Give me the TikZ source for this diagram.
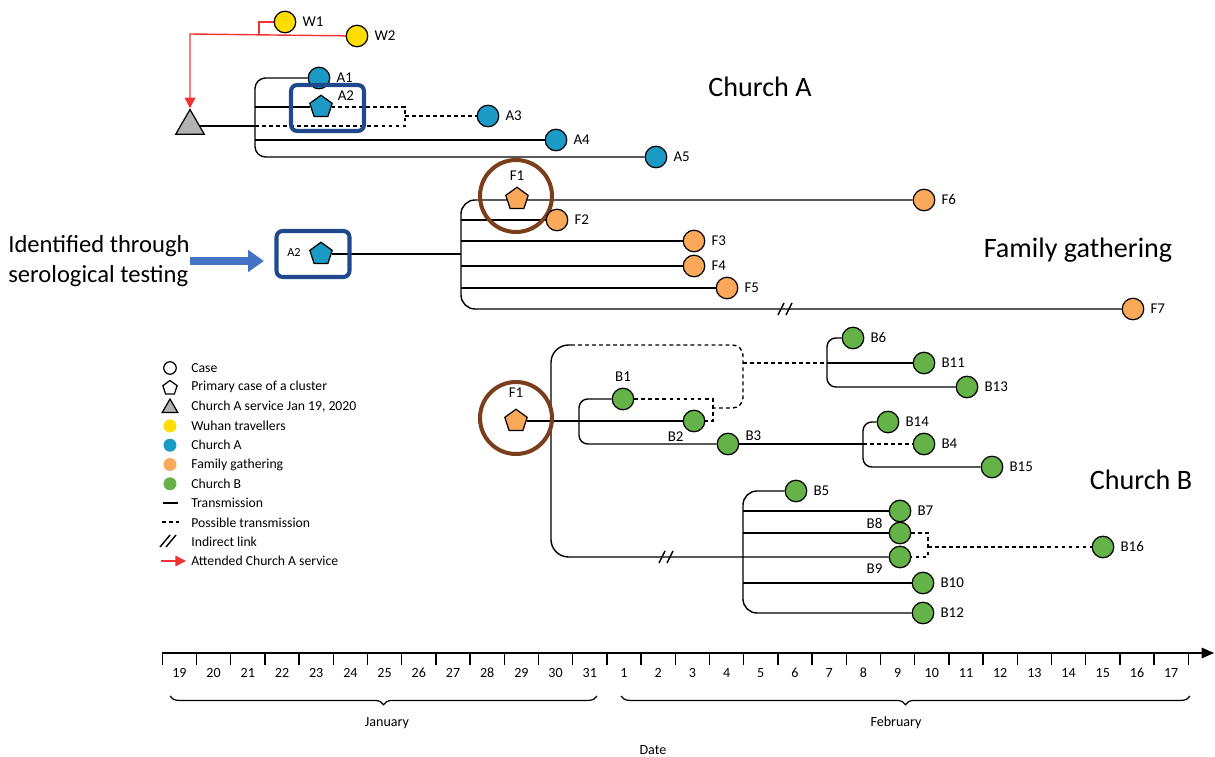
\documentclass[tikz,border=0pt]{standalone}
\usepackage{fontspec}
\setmainfont{Carlito}
\usetikzlibrary{shapes.geometric,arrows.meta,decorations.pathreplacing,backgrounds}

\definecolor{wuhan}{RGB}{255,221,0}
\definecolor{churcha}{RGB}{26,154,196}
\definecolor{family}{RGB}{250,169,90}
\definecolor{churchb}{RGB}{100,178,72}
\definecolor{idblue}{RGB}{31,73,140}
\definecolor{seroblue}{RGB}{68,114,196}
\definecolor{ringbrown}{RGB}{122,62,28}
\definecolor{attendred}{RGB}{240,50,50}

\tikzset{
  case/.style={circle, draw, line width=0.7pt, minimum size=0.43cm, inner sep=0pt},
  prim/.style={regular polygon, regular polygon sides=5, draw, line width=0.7pt, minimum size=0.47cm, inner sep=0pt},
  svc/.style={regular polygon, regular polygon sides=3, draw, fill=black!30, line width=0.7pt, minimum size=0.66cm, inner sep=0pt},
  lbl/.style={font=\fontsize{8.5}{10}\selectfont},
  tx/.style={line width=0.8pt},
  ptx/.style={line width=0.8pt, dash pattern=on 2.2pt off 1.8pt},
  idbox/.style={draw=idblue, line width=2.3pt, rounded corners=3.5pt, minimum width=1.46cm, minimum height=0.92cm},
  ring/.style={circle, draw=ringbrown, line width=2.3pt, minimum size=1.44cm},
  title/.style={font=\fontsize{16}{19}\selectfont},
  legtxt/.style={anchor=west, font=\fontsize{7.8}{9}\selectfont, inner sep=0pt},
  axtxt/.style={font=\fontsize{8}{9}\selectfont},
  attend/.style={draw=attendred, line width=0.8pt},
}

% indirect link mark
\newcommand{\ilink}[1]{\draw[tx] ([shift={(-7,6)}]#1) -- ([shift={(-1,-6)}]#1) ([shift={(1,6)}]#1) -- ([shift={(7,-6)}]#1);}

\begin{document}
\begin{tikzpicture}[x=0.02cm, y=-0.02cm]
  \useasboundingbox (0,0) rectangle (1215,757);

  % Wuhan travellers and Church A service
  \node[case, fill=wuhan, label={[lbl]right:W1}] (W1) at (285,22) {};
  \node[case, fill=wuhan, label={[lbl]right:W2}] (W2) at (357,36) {};
  \node[svc] (tri) at (190,126) {};
  \coordinate (rw) at (259,34);
  \coordinate (rc) at (190,34);

  % Church A
  \node[case, fill=churcha, label={[lbl]right:A1}] (A1) at (319,78) {};
  \node[prim, fill=churcha, label={[lbl,yshift=6.5pt]right:A2}] (A2) at (321,107) {};
  \node[case, fill=churcha, label={[lbl]right:A3}] (A3) at (488,116) {};
  \node[case, fill=churcha, label={[lbl]right:A4}] (A4) at (556,140) {};
  \node[case, fill=churcha, label={[lbl]right:A5}] (A5) at (656,157) {};
  \node[idbox] (boxA) at (327.5,108) {};
  \node[title] (tA) at (760,87) {Church A};
  \coordinate (sA) at (255,126);
  \coordinate (kA) at (405,116);

  % Family gathering
  \node[idbox] (boxF) at (313,254) {};
  \node[font=\fontsize{7}{8}\selectfont] (A2t) at (294,253) {A2};
  \node[prim, fill=churcha] (A2b) at (321,254) {};
  \node[prim, fill=family, label={[lbl]above:F1}] (F1) at (517,199) {};
  \node[ring] (rF1) at (516,196) {};
  \node[case, fill=family, label={[lbl]right:F2}] (F2) at (557,220) {};
  \node[case, fill=family, label={[lbl]right:F3}] (F3) at (694,241) {};
  \node[case, fill=family, label={[lbl]right:F4}] (F4) at (694,266) {};
  \node[case, fill=family, label={[lbl]right:F5}] (F5) at (727,288) {};
  \node[case, fill=family, label={[lbl]right:F6}] (F6) at (924,200) {};
  \node[case, fill=family, label={[lbl]right:F7}] (F7) at (1133,309) {};
  \node[title] (tF) at (1078,250) {Family gathering};
  \node[font=\fontsize{14}{17}\selectfont, align=left, anchor=west, inner sep=0pt] (sero) at (8,261) {Identified through\\serological testing};
  \coordinate (sF) at (461,254);
  \coordinate (bF) at (785,309);

  % Church B
  \node[prim, fill=family, label={[lbl,label distance=3pt]above:F1}] (F1b) at (516,421) {};
  \node[ring] (rF1b) at (516,418) {};
  \node[case, fill=churchb, label={[lbl]above:B1}] (B1) at (623,399) {};
  \node[case, fill=churchb, label={[lbl,label distance=-3pt]below left:B2}] (B2) at (694,421) {};
  \node[case, fill=churchb, label={[lbl,yshift=4.5pt]right:B3}] (B3) at (728,444) {};
  \node[case, fill=churchb, label={[lbl]right:B4}] (B4) at (924,444) {};
  \node[case, fill=churchb, label={[lbl]right:B5}] (B5) at (796,491) {};
  \node[case, fill=churchb, label={[lbl]right:B6}] (B6) at (853,338) {};
  \node[case, fill=churchb, label={[lbl]right:B7}] (B7) at (900,511) {};
  \node[case, fill=churchb, label={[lbl,yshift=5.7pt]left:B8}] (B8) at (900,533) {};
  \node[case, fill=churchb, label={[lbl,yshift=-6.8pt]left:B9}] (B9) at (900,557) {};
  \node[case, fill=churchb, label={[lbl]right:B10}] (B10) at (923,583) {};
  \node[case, fill=churchb, label={[lbl]right:B11}] (B11) at (924,363) {};
  \node[case, fill=churchb, label={[lbl]right:B12}] (B12) at (923,613) {};
  \node[case, fill=churchb, label={[lbl]right:B13}] (B13) at (967,387) {};
  \node[case, fill=churchb, label={[lbl]right:B14}] (B14) at (888,422) {};
  \node[case, fill=churchb, label={[lbl]right:B15}] (B15) at (992,467) {};
  \node[case, fill=churchb, label={[lbl]right:B16}] (B16) at (1103,547) {};
  \node[title] (tB) at (1141,480) {Church B};
  \coordinate (sB) at (551,345);
  \coordinate (sB2) at (571,345);
  \coordinate (eB) at (551,557);
  \coordinate (dB) at (743,408);
  \coordinate (kB) at (713,408);
  \coordinate (jB) at (743,363);
  \coordinate (s6) at (827,363);
  \coordinate (s1) at (579,421);
  \coordinate (s14) at (863,444);
  \coordinate (s5) at (743,557);
  \coordinate (k89) at (928,547);
  \coordinate (bB) at (666,557);

  \begin{scope}[on background layer]
    % Church A links
    \draw[attend] (W1) -| (rw);
    \draw[attend, -{Triangle[length=6pt,width=6pt]}] (W2) -- (rc) -- (tri);
    \draw[tx] (tri) -- (sA);
    \draw[tx, rounded corners=6] (A1) -- (A1 -| sA) -- (A5 -| sA) -- (A5);
    \draw[tx] (A2 -| sA) -- (A2);
    \draw[tx] (A4 -| sA) -- (A4);
    \draw[ptx] (sA) -| (kA) |- (A2);
    \draw[ptx] (kA) -- (A3);
    % family links
    \draw[tx] (A2b) -- (sF);
    \draw[tx, rounded corners=8] (F6) -- (F6 -| sF) -- (F7 -| sF) -- (F7);
    \foreach \n in {F2,F3,F4,F5}
    \draw[tx] (\n -| sF) -- (\n);
    \ilink{bF}
    % Church B links
    \draw[tx] (F1b) -- (B2);
    \draw[tx, rounded corners=10] (sB2) -- (sB) -- (eB) -- (B9);
    \draw[ptx, rounded corners=6] (sB2) -| (dB) -- (kB);
    \draw[ptx] (B1) -| (kB) |- (B2);
    \draw[ptx] (jB) -- (s6);
    \draw[tx] (s6) -- (B11);
    \draw[tx, rounded corners=5] (B6) -- (B6 -| s6) -- (B13 -| s6) -- (B13);
    \draw[tx, rounded corners=5] (B1) -- (B1 -| s1) -- (B3 -| s1) -- (B3);
    \draw[tx] (B3) -- (s14);
    \draw[ptx] (s14) -- (B4);
    \draw[tx, rounded corners=5] (B14) -- (B14 -| s14) -- (B15 -| s14) -- (B15);
    \draw[tx, rounded corners=8] (B5) -- (B5 -| s5) -- (B12 -| s5) -- (B12);
    \foreach \n in {B7,B8,B10}
    \draw[tx] (\n -| s5) -- (\n);
    \draw[ptx] (B8) -| (k89) |- (B9);
    \draw[ptx] (k89) -- (B16);
    \ilink{bB}
  \end{scope}
  \draw[seroblue, line width=4.5pt, -{Triangle[length=9pt,width=12pt]}, shorten >=6pt] (sero.east) -- (sero.east -| boxF.west);

  % legend
  \foreach \t [count=\i from 0] in {Case,Primary case of a cluster,{Church A service Jan 19, 2020},Wuhan travellers,Church A,Family gathering,Church B,Transmission,Possible transmission,Indirect link,Attended Church A service}
  \node[legtxt] (lg\i) at (191,{368+19.3*\i}) {\t};
  \node[case, minimum size=0.25cm] (lc) at (170,368) {};
  \node[prim, minimum size=0.3cm] (lp) at (170,388) {};
  \node[svc, minimum size=0.36cm] (lt) at (170,408) {};
  \foreach \c [count=\i from 3] in {wuhan,churcha,family,churchb}
  \node[circle, fill=\c, minimum size=0.26cm, inner sep=0pt] (ld\i) at (170,{368+19.3*\i}) {};
  \draw[tx] (163,503) -- (178,503);
  \draw[ptx] (162,522) -- (179,522);
  \draw[tx] (160,547) -- (170,535) (166,547) -- (176,535);
  \draw[attend, -{Triangle[length=6pt,width=6pt]}] (161,561) -- (186,561);

  % date axis
  \draw[line width=0.8pt, -{Triangle[length=7pt,width=6pt]}] (162,653) -- (1214,653);
  \foreach \k in {0,...,30}
  \draw[line width=0.8pt] ({162.3+34.2*\k},653) -- ++(0,12);
  \foreach \d [count=\k from 0] in {19,...,31}
  \node[axtxt] (j\d) at ({162.3+34.2*(\k+0.5)},673) {\d};
  \foreach \d [count=\k from 13] in {1,...,17}
  \node[axtxt] (f\d) at ({162.3+34.2*(\k+0.5)},673) {\d};
  \draw[decorate, decoration={brace, mirror, amplitude=5pt}, line width=0.7pt] (170,696) -- (597,696);
  \draw[decorate, decoration={brace, mirror, amplitude=5pt}, line width=0.7pt] (621,696) -- (1190,696);
  \node[axtxt] (jan) at (387,723) {January};
  \node[axtxt] (feb) at (896,723) {February};
  \node[axtxt] (date) at (653,750) {Date};
\end{tikzpicture}
\end{document}
